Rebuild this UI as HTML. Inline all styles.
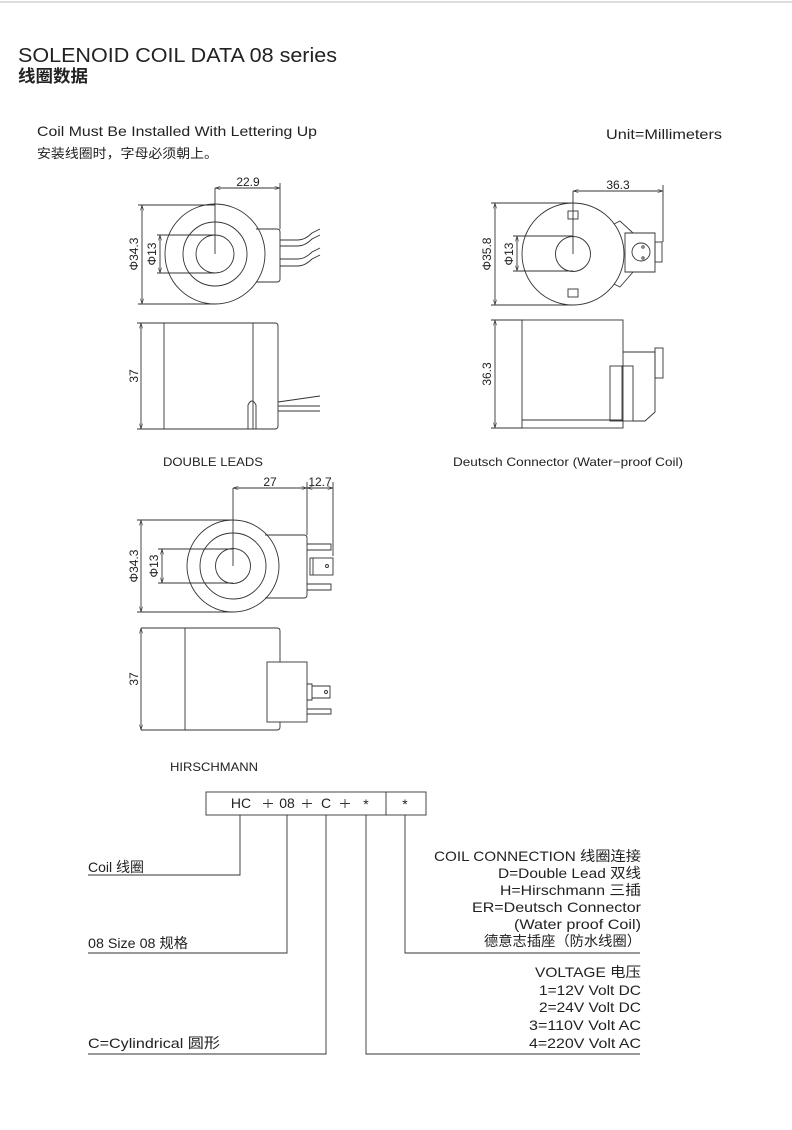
<!DOCTYPE html>
<html><head><meta charset="utf-8"><style>
html,body{margin:0;padding:0;background:#fff}
svg{display:block}
text{font-family:"Liberation Sans","Noto Sans CJK SC",sans-serif;fill:#222}
</style></head><body>
<svg width="792" height="1130" viewBox="0 0 792 1130" xmlns="http://www.w3.org/2000/svg">
<defs>
<marker id="a" viewBox="0 0 10 10" refX="10" refY="5" markerWidth="6" markerHeight="6" orient="auto-start-reverse"><path d="M0,2 L10,5 L0,8" fill="none" stroke="#333"/></marker>
</defs>
<line x1="0" y1="2" x2="792" y2="2" stroke="#bbb" stroke-width="1"/>
<text x="18" y="62" font-size="20" textLength="319" lengthAdjust="spacingAndGlyphs">SOLENOID COIL DATA 08 series</text>
<text x="18" y="82" font-size="17" font-weight="bold" textLength="70" lengthAdjust="spacingAndGlyphs">线圈数据</text>
<text x="37" y="136" font-size="14" textLength="280" lengthAdjust="spacingAndGlyphs">Coil Must Be Installed With Lettering Up</text>
<text x="37" y="158" font-size="13" textLength="181" lengthAdjust="spacingAndGlyphs">安装线圈时，字母必须朝上。</text>
<text x="606" y="139" font-size="14" textLength="116" lengthAdjust="spacingAndGlyphs">Unit=Millimeters</text>

<g fill="none" stroke="#333" stroke-width="0.9">
<circle cx="215" cy="254" r="50"/>
<circle cx="215" cy="254" r="32"/>
<circle cx="215" cy="254" r="19"/>
<path d="M256,229 H277 Q280,229 280,232 V279 Q280,282 277,282 H256"/>
<path d="M280,240 H298 Q305,240 312,233 L320,229 M280,246 H298 Q305,246 312,239 L320,235 M280,259 H298 Q305,259 312,252 L320,248 M280,266 H298 Q305,266 312,259 L320,255"/>
<line x1="215" y1="188" x2="215" y2="254"/>
<line x1="280" y1="183" x2="280" y2="229"/>
<line x1="215" y1="188" x2="280" y2="188" marker-start="url(#a)" marker-end="url(#a)"/>
<line x1="138" y1="205" x2="215" y2="205"/><line x1="138" y1="304" x2="215" y2="304"/>
<line x1="142" y1="205" x2="142" y2="304" marker-start="url(#a)" marker-end="url(#a)"/>
<line x1="157" y1="235" x2="215" y2="235"/><line x1="157" y1="273" x2="215" y2="273"/>
<line x1="160" y1="235" x2="160" y2="273" marker-start="url(#a)" marker-end="url(#a)"/>
<path d="M164,323 H275 Q278,323 278,326 V426 Q278,429 275,429 H164 Z"/>
<line x1="253" y1="323" x2="253" y2="429"/>
<path d="M248,429 V405 Q252,397 256,405 V429"/>
<path d="M278,402 L320,396 M278,406 H320 M278,411 H320"/>
<line x1="137" y1="323" x2="164" y2="323"/><line x1="137" y1="429" x2="164" y2="429"/>
<line x1="141" y1="323" x2="141" y2="429" marker-start="url(#a)" marker-end="url(#a)"/>

<circle cx="573" cy="254" r="51"/>
<circle cx="573" cy="254" r="17.5"/>
<rect x="568" y="211" width="10" height="8"/><rect x="568" y="289" width="10" height="8"/>
<path d="M614,224 L620,221 L633,233 M614,284 L620,287 L633,272"/>
<path d="M625,233 H655 V272 H625 Z"/>
<rect x="655" y="242" width="7" height="20"/>
<circle cx="641" cy="252" r="9"/>
<circle cx="643" cy="247" r="1.2"/><circle cx="643" cy="258" r="1.2"/>
<line x1="573" y1="191" x2="573" y2="254"/>
<line x1="663" y1="185" x2="663" y2="242"/>
<line x1="573" y1="191" x2="663" y2="191" marker-start="url(#a)" marker-end="url(#a)"/>
<line x1="491" y1="203" x2="573" y2="203"/><line x1="491" y1="305" x2="573" y2="305"/>
<line x1="495" y1="203" x2="495" y2="305" marker-start="url(#a)" marker-end="url(#a)"/>
<line x1="513" y1="236" x2="573" y2="236"/><line x1="513" y1="271" x2="573" y2="271"/>
<line x1="517" y1="236" x2="517" y2="271" marker-start="url(#a)" marker-end="url(#a)"/>
<rect x="522" y="320" width="101" height="108"/>
<line x1="522" y1="420" x2="623" y2="420"/>
<path d="M623,352 H655 V412 L645,421 H633"/>
<rect x="655" y="348" width="8" height="30"/>
<rect x="610" y="366" width="23" height="55"/>
<line x1="622" y1="366" x2="622" y2="421"/>
<line x1="491" y1="320" x2="522" y2="320"/><line x1="491" y1="428" x2="522" y2="428"/>
<line x1="495" y1="320" x2="495" y2="428" marker-start="url(#a)" marker-end="url(#a)"/>

<circle cx="233" cy="566" r="46"/>
<circle cx="233" cy="566" r="33"/>
<circle cx="233" cy="566" r="17.5"/>
<path d="M265,535 H304 Q307,535 307,538 V595 Q307,598 304,598 H265"/>
<path d="M307,544 H331 V550 H307 M307,584 H331 V590 H307"/>
<rect x="310" y="558" width="23" height="17"/><line x1="313" y1="558" x2="313" y2="575"/>
<circle cx="327" cy="566" r="1.5"/>
<line x1="233" y1="488" x2="233" y2="566"/>
<line x1="307" y1="482" x2="307" y2="535"/>
<line x1="333" y1="482" x2="333" y2="556"/>
<line x1="233" y1="488" x2="307" y2="488" marker-start="url(#a)" marker-end="url(#a)"/>
<line x1="307" y1="488" x2="333" y2="488" marker-start="url(#a)" marker-end="url(#a)"/>
<line x1="137" y1="520" x2="233" y2="520"/><line x1="137" y1="612" x2="233" y2="612"/>
<line x1="141" y1="520" x2="141" y2="612" marker-start="url(#a)" marker-end="url(#a)"/>
<line x1="158" y1="549" x2="233" y2="549"/><line x1="158" y1="583" x2="233" y2="583"/>
<line x1="162" y1="549" x2="162" y2="583" marker-start="url(#a)" marker-end="url(#a)"/>
<path d="M141,628 H277 Q280,628 280,631 V662 M280,722 V727 Q280,730 277,730 H141"/>
<line x1="185" y1="628" x2="185" y2="730"/>
<rect x="267" y="662" width="40" height="60"/>
<path d="M307,684 H312 V700 H307 M312,686 H330 V698 H312 M307,709 H331 V714 H307"/>
<circle cx="326" cy="692" r="1.5"/>
<line x1="141" y1="628" x2="141" y2="730" marker-start="url(#a)" marker-end="url(#a)"/>

<rect x="206" y="792" width="220" height="23"/>
<line x1="386" y1="792" x2="386" y2="815"/>
<path d="M263,803.5 H273 M268,799 V808 M302,803.5 H312 M307,799 V808 M340,803.5 H350 M345,799 V808"/>
<path d="M240,815 V875 H88 M287,815 V953 H88 M326,815 V1054 H88 M366,815 V1054 H640 M405,815 V953 H640"/>
</g>

<g font-size="12">
<text x="248" y="186" text-anchor="middle">22.9</text>
<text x="618" y="189" text-anchor="middle">36.3</text>
<text x="270" y="486" text-anchor="middle">27</text>
<text x="320" y="486" text-anchor="middle">12.7</text>
<text transform="translate(138,254) rotate(-90)" text-anchor="middle">Φ34.3</text>
<text transform="translate(156,254) rotate(-90)" text-anchor="middle">Φ13</text>
<text transform="translate(138,376) rotate(-90)" text-anchor="middle">37</text>
<text transform="translate(491,254) rotate(-90)" text-anchor="middle">Φ35.8</text>
<text transform="translate(513,254) rotate(-90)" text-anchor="middle">Φ13</text>
<text transform="translate(491,374) rotate(-90)" text-anchor="middle">36.3</text>
<text transform="translate(138,566) rotate(-90)" text-anchor="middle">Φ34.3</text>
<text transform="translate(158,566) rotate(-90)" text-anchor="middle">Φ13</text>
<text transform="translate(138,679) rotate(-90)" text-anchor="middle">37</text>
</g>
<g font-size="12">
<text x="163" y="466" textLength="100" lengthAdjust="spacingAndGlyphs">DOUBLE LEADS</text>
<text x="453" y="466" textLength="230" lengthAdjust="spacingAndGlyphs">Deutsch Connector (Water−proof Coil)</text>
<text x="170" y="771" textLength="88" lengthAdjust="spacingAndGlyphs">HIRSCHMANN</text>
</g>
<g font-size="14" text-anchor="middle">
<text x="241" y="808">HC</text><text x="287" y="808">08</text><text x="326" y="808">C</text>
<text x="366" y="809">*</text><text x="405" y="809">*</text>
</g>
<g font-size="14">
<text x="88" y="872" textLength="56" lengthAdjust="spacingAndGlyphs">Coil 线圈</text>
<text x="88" y="948" textLength="100" lengthAdjust="spacingAndGlyphs">08 Size 08 规格</text>
<text x="88" y="1048" textLength="132" lengthAdjust="spacingAndGlyphs">C=Cylindrical 圆形</text>
</g>
<g font-size="14" text-anchor="end">
<text x="641" y="861" textLength="207" lengthAdjust="spacingAndGlyphs">COIL CONNECTION 线圈连接</text>
<text x="641" y="878" textLength="143" lengthAdjust="spacingAndGlyphs">D=Double Lead 双线</text>
<text x="641" y="895" textLength="141" lengthAdjust="spacingAndGlyphs">H=Hirschmann 三插</text>
<text x="641" y="912" textLength="169" lengthAdjust="spacingAndGlyphs">ER=Deutsch Connector</text>
<text x="641" y="929" textLength="127" lengthAdjust="spacingAndGlyphs">(Water proof Coil)</text>
<text x="641" y="946" textLength="157" lengthAdjust="spacingAndGlyphs">德意志插座（防水线圈）</text>
<text x="641" y="977" textLength="106" lengthAdjust="spacingAndGlyphs">VOLTAGE 电压</text>
<text x="641" y="995" textLength="102" lengthAdjust="spacingAndGlyphs">1=12V Volt DC</text>
<text x="641" y="1012" textLength="102" lengthAdjust="spacingAndGlyphs">2=24V Volt DC</text>
<text x="641" y="1030" textLength="112" lengthAdjust="spacingAndGlyphs">3=110V Volt AC</text>
<text x="641" y="1048" textLength="112" lengthAdjust="spacingAndGlyphs">4=220V Volt AC</text>
</g>
</svg>
</body></html>
